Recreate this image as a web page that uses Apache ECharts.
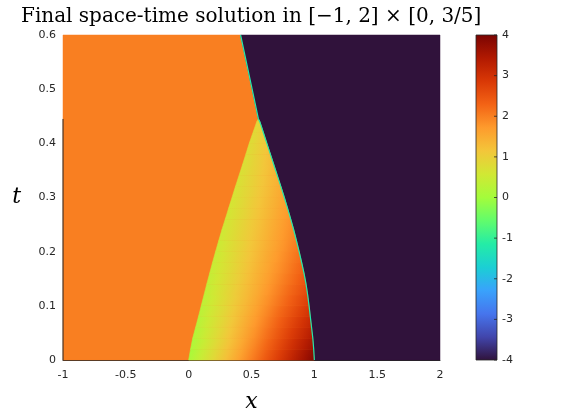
<!DOCTYPE html>
<html>
<head>
<meta charset="utf-8">
<script src="https://cdn.jsdelivr.net/npm/echarts@6/dist/echarts.min.js"></script>
<style>
  html, body { margin: 0; padding: 0; background: #fff; }
  #chart { width: 570px; height: 413px; }
</style>
</head>
<body>
<div id="chart"></div>
<script>
// rows of the rarefaction fan (t), its left edge, the shock, and the values at both edges
const fanT = [0, 0.02, 0.04, 0.06, 0.08, 0.10, 0.12, 0.14, 0.16, 0.18, 0.20, 0.22,
  0.24, 0.26, 0.28, 0.30, 0.32, 0.34, 0.36, 0.38, 0.40, 0.42, 0.44];
const fanLeftX = [0.0, 0.015, 0.032, 0.055, 0.078, 0.100, 0.122, 0.144, 0.167, 0.190,
  0.214, 0.239, 0.264, 0.291, 0.318, 0.345, 0.372, 0.400, 0.428, 0.455, 0.482, 0.512, 0.542];
const shockX = [1.0, 0.995, 0.988, 0.978, 0.968, 0.958, 0.947, 0.934, 0.918, 0.899,
  0.879, 0.858, 0.836, 0.812, 0.787, 0.761, 0.734, 0.706, 0.678, 0.650, 0.622, 0.594, 0.566];
const fanLeftU = [0.05, 0.10, 0.15, 0.20, 0.25, 0.29, 0.33, 0.37, 0.40, 0.43, 0.47, 0.50,
  0.53, 0.56, 0.59, 0.62, 0.65, 0.68, 0.70, 0.73, 0.75, 0.78, 0.80];
const fanRightU = [3.95, 3.70, 3.45, 3.25, 3.05, 2.85, 2.68, 2.52, 2.38, 2.25, 2.12, 2.00,
  1.90, 1.80, 1.70, 1.60, 1.50, 1.42, 1.33, 1.25, 1.15, 1.05, 0.95];
const apexPoint = [0.555, 0.445];
const apexU = 0.85;
// shock after the fan is gone
const upperShockT = [0.5, 0.6];
const upperShockX = [0.505, 0.413];
const leftStateU = 2;
const rightStateU = -4;
const shockEdgeU = -1.2;
const colorTicks = [-4, -3, -2, -1, 0, 1, 2, 3, 4];
const turboStops = ['#30123b', '#4145ab', '#4675ed', '#39a2fc', '#1bcfd4', '#24eca6', '#61fc6c',
  '#a4fc3b', '#d1e834', '#f3c63a', '#fe9b2d', '#f36315', '#d93806', '#b11901', '#7a0402'];

const uMin = -4, uMax = 4;

function hexToRgb(h) {
  return [parseInt(h.slice(1, 3), 16), parseInt(h.slice(3, 5), 16), parseInt(h.slice(5, 7), 16)];
}
const turboRgb = turboStops.map(hexToRgb);

function turbo(u) {
  let s = (u - uMin) / (uMax - uMin);
  s = Math.max(0, Math.min(1, s)) * (turboRgb.length - 1);
  const i = Math.min(Math.floor(s), turboRgb.length - 2);
  const f = s - i;
  const a = turboRgb[i], b = turboRgb[i + 1];
  const c = a.map((v, k) => Math.round(v + (b[k] - v) * f));
  return `rgb(${c[0]},${c[1]},${c[2]})`;
}

// fill a strip with a linear gradient fitted to the values at its corners (pixel space)
function cornerGradient(pts, vals) {
  const n = pts.length;
  const cx = pts.reduce((s, p) => s + p[0], 0) / n;
  const cy = pts.reduce((s, p) => s + p[1], 0) / n;
  let sxx = 0, sxy = 0, syy = 0, sv = 0, sxv = 0, syv = 0;
  pts.forEach((p, i) => {
    const dx = p[0] - cx, dy = p[1] - cy;
    sxx += dx * dx; sxy += dx * dy; syy += dy * dy;
    sv += vals[i]; sxv += dx * vals[i]; syv += dy * vals[i];
  });
  const a = sv / n;
  const det = sxx * syy - sxy * sxy;
  const b = det ? (sxv * syy - syv * sxy) / det : 0;
  const c = det ? (syv * sxx - sxv * sxy) / det : 0;
  const g2 = b * b + c * c;
  if (g2 < 1e-9) return turbo(a);
  const u0 = Math.min.apply(null, vals), u1 = Math.max.apply(null, vals);
  const sx = cx + (u0 - a) * b / g2, sy = cy + (u0 - a) * c / g2;
  const ex = cx + (u1 - a) * b / g2, ey = cy + (u1 - a) * c / g2;
  const stops = [];
  for (let k = 0; k <= 10; k++) {
    stops.push({ offset: k / 10, color: turbo(u0 + (u1 - u0) * k / 10) });
  }
  return new echarts.graphic.LinearGradient(sx, sy, ex, ey, stops, true);
}

const axisColor = '#262626';
const tickFont = { color: axisColor, fontSize: 11, fontFamily: 'DejaVu Sans' };

function shockPath() {
  const pts = fanT.map((t, i) => [shockX[i], t]);
  pts.push(apexPoint);
  upperShockT.forEach((t, i) => pts.push([upperShockX[i], t]));
  return pts;
}

function renderSolution(params, api) {
  const children = [];
  const shock = shockPath();
  const top = upperShockT[upperShockT.length - 1];

  // state left of the shock (the fan is painted over it)
  const leftPoly = [[-1, 0]].concat(shock, [[-1, top]]).map((p) => api.coord(p));
  children.push({ type: 'polygon', shape: { points: leftPoly },
    style: { fill: turbo(leftStateU), stroke: turbo(leftStateU), lineWidth: 0.5 } });

  // state right of the shock
  const rightPoly = [[2, 0], [2, top]].concat(shock.slice().reverse()).map((p) => api.coord(p));
  children.push({ type: 'polygon', shape: { points: rightPoly },
    style: { fill: turbo(rightStateU), stroke: turbo(rightStateU), lineWidth: 0.5 } });

  // fan, one strip per row
  for (let i = 0; i < fanT.length; i++) {
    const last = i === fanT.length - 1;
    const bottom = [[fanLeftX[i], fanT[i]], [shockX[i], fanT[i]]];
    let pts, vals;
    if (last) {
      pts = bottom.concat([apexPoint]);
      vals = [fanLeftU[i], fanRightU[i], apexU];
    } else {
      pts = bottom.concat([[shockX[i + 1], fanT[i + 1]], [fanLeftX[i + 1], fanT[i + 1]]]);
      vals = [fanLeftU[i], fanRightU[i], fanRightU[i + 1], fanLeftU[i + 1]];
    }
    const px = pts.map((p) => api.coord(p));
    const fill = cornerGradient(px, vals);
    children.push({ type: 'polygon', shape: { points: px },
      style: { fill: fill, stroke: fill, lineWidth: 0.6 } });
  }

  // thin smeared cell along the shock
  children.push({ type: 'polyline', shape: { points: shock.map((p) => api.coord(p)) },
    style: { stroke: turbo(shockEdgeU), lineWidth: 1.2, fill: null } });

  // lower part of the left axis line
  const a0 = api.coord([-1, 0]);
  const a1 = api.coord([-1, apexPoint[1]]);
  children.push({ type: 'line', shape: { x1: a0[0], y1: a0[1], x2: a1[0], y2: a1[1] },
    style: { stroke: axisColor, lineWidth: 1 } });

  return { type: 'group', children: children };
}

function renderColorbar(params, api) {
  const p0 = api.coord([0, uMax]);
  const p1 = api.coord([1, uMin]);
  const stops = turboStops.map((c, i) => ({ offset: i / (turboStops.length - 1), color: c }));
  const children = [{
    type: 'rect',
    shape: { x: p0[0], y: p0[1], width: p1[0] - p0[0], height: p1[1] - p0[1] },
    style: { fill: new echarts.graphic.LinearGradient(0, 1, 0, 0, stops), stroke: axisColor, lineWidth: 0.8 }
  }];
  colorTicks.forEach((v) => {
    const p = api.coord([1, v]);
    children.push({ type: 'line', shape: { x1: p[0] - 3, y1: p[1], x2: p[0], y2: p[1] },
      style: { stroke: axisColor, lineWidth: 0.8 } });
  });
  return { type: 'group', children: children };
}

const chart = echarts.init(document.getElementById('chart'), null, { renderer: 'canvas' });
chart.setOption({
  animation: false,
  title: {
    text: 'Final space-time solution in [\u22121, 2] \u00d7 [0, 3/5]',
    left: 16, top: 2,
    textStyle: { fontFamily: 'DejaVu Serif', fontSize: 20, fontWeight: 'normal', color: '#000' }
  },
  grid: [
    { left: 63, top: 35, width: 377, height: 325, outerBoundsMode: 'none', containLabel: false },
    { left: 476, top: 35, width: 21, height: 325, outerBoundsMode: 'none', containLabel: false }
  ],
  xAxis: [
    {
      gridIndex: 0, type: 'value', min: -1, max: 2, interval: 0.5,
      name: 'x', nameLocation: 'middle', nameGap: 31,
      nameTextStyle: { fontFamily: 'DejaVu Serif', fontStyle: 'italic', fontSize: 22, color: '#000' },
      axisLine: { show: true, lineStyle: { color: axisColor, width: 1 } },
      axisTick: { show: false },
      splitLine: { show: false },
      axisLabel: Object.assign({ margin: 10 }, tickFont)
    },
    { gridIndex: 1, type: 'value', min: 0, max: 1, show: false }
  ],
  yAxis: [
    {
      gridIndex: 0, type: 'value', min: 0, max: 0.6, interval: 0.1,
      name: 't', nameLocation: 'middle', nameGap: 42, nameRotate: 0,
      nameTextStyle: { fontFamily: 'DejaVu Serif', fontStyle: 'italic', fontSize: 22, color: '#000',
        padding: [6, 0, 0, 0] },
      axisLine: { show: false },
      axisTick: { show: false },
      splitLine: { show: false },
      axisLabel: Object.assign({ margin: 7 }, tickFont)
    },
    {
      gridIndex: 1, type: 'value', min: uMin, max: uMax, interval: 1, position: 'right',
      axisLine: { show: false },
      axisTick: { show: false },
      splitLine: { show: false },
      axisLabel: Object.assign({ margin: 5 }, tickFont)
    }
  ],
  series: [
    {
      type: 'custom', xAxisIndex: 0, yAxisIndex: 0, clip: false,
      data: [[0, 0]], renderItem: renderSolution, silent: true
    },
    {
      type: 'custom', xAxisIndex: 1, yAxisIndex: 1,
      data: [[0, 0]], renderItem: renderColorbar, silent: true
    }
  ]
});
</script>
</body>
</html>
